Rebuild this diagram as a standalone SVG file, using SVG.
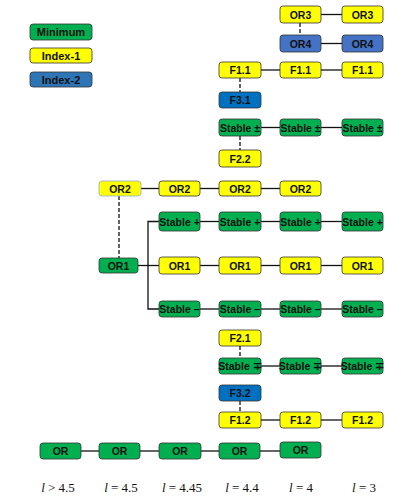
<svg xmlns="http://www.w3.org/2000/svg" width="415" height="498" viewBox="0 0 415 498">
<style>
rect{stroke:#333;stroke-width:0.8}
.g{fill:#00B050}
.y{fill:#FFFF00}
.b{fill:#4472C4}
.b2{fill:#0070C0}
.b3{fill:#2E75B6}
text{font-family:"Liberation Sans",Arial,sans-serif;font-weight:bold;font-size:10.5px;fill:#111;text-anchor:middle}
.lg{font-size:11px}
.m{font-family:"Liberation Serif","Times New Roman",serif;font-weight:normal;font-size:13px}
#connectors line,#connectors path{stroke:#111;stroke-width:1.3;fill:none}
#connectors .d{stroke-dasharray:4,2}
</style>
<g id="connectors">
<line x1="321" y1="14.5" x2="342" y2="14.5"/>
<line x1="321" y1="43.5" x2="342" y2="43.5"/>
<line class="d" x1="300" y1="23" x2="300" y2="35"/>
<line x1="261" y1="70" x2="280" y2="70"/>
<line x1="321" y1="70" x2="342" y2="70"/>
<line class="d" x1="240" y1="78" x2="240" y2="92"/>
<line x1="261" y1="127.5" x2="280" y2="127.5"/>
<line x1="321" y1="127.5" x2="342" y2="127.5"/>
<line class="d" x1="240" y1="136" x2="240" y2="150"/>
<line x1="141" y1="188.5" x2="159" y2="188.5"/>
<line x1="200" y1="188.5" x2="219" y2="188.5"/>
<line x1="261" y1="188.5" x2="280" y2="188.5"/>
<line class="d" x1="119" y1="196" x2="119" y2="258"/>
<path d="M159 221.5H148V309H159"/>
<line x1="138" y1="265.5" x2="159" y2="265.5"/>
<line x1="200" y1="221.5" x2="219" y2="221.5"/>
<line x1="261" y1="221.5" x2="280" y2="221.5"/>
<line x1="321" y1="221.5" x2="342" y2="221.5"/>
<line x1="200" y1="265.5" x2="219" y2="265.5"/>
<line x1="261" y1="265.5" x2="280" y2="265.5"/>
<line x1="321" y1="265.5" x2="342" y2="265.5"/>
<line x1="200" y1="309" x2="219" y2="309"/>
<line x1="261" y1="309" x2="280" y2="309"/>
<line x1="321" y1="309" x2="342" y2="309"/>
<line class="d" x1="240" y1="346" x2="240" y2="358"/>
<line x1="261" y1="366" x2="280" y2="366"/>
<line x1="321" y1="366" x2="342" y2="366"/>
<line class="d" x1="240" y1="401" x2="240" y2="412"/>
<line x1="261" y1="420" x2="280" y2="420"/>
<line x1="321" y1="420" x2="342" y2="420"/>
<line x1="81" y1="451" x2="99" y2="451"/>
<line x1="140" y1="451" x2="159" y2="451"/>
<line x1="201" y1="451" x2="219" y2="451"/>
<line x1="260" y1="451" x2="280" y2="451"/>
</g>
<g id="legend-minimum"><rect class="g" x="30" y="24" width="62" height="16" rx="3"/><text class="lg" x="61" y="36">Minimum</text></g>
<g id="legend-index1"><rect class="y" x="30" y="48" width="62" height="15" rx="3"/><text class="lg" x="61" y="59.5">Index-1</text></g>
<g id="legend-index2"><rect class="b3" x="30" y="72" width="62" height="15" rx="3"/><text class="lg" x="61" y="83.5">Index-2</text></g>

<g id="or3-a"><rect class="y" x="280" y="6" width="41" height="17" rx="3"/><text x="300.5" y="18.5">OR3</text></g>
<g id="or3-b"><rect class="y" x="342" y="6" width="41" height="17" rx="3"/><text x="362.5" y="18.5">OR3</text></g>
<g id="or4-a"><rect class="b" x="280" y="35" width="41" height="17" rx="3"/><text x="300.5" y="47.5">OR4</text></g>
<g id="or4-b"><rect class="b" x="342" y="35" width="41" height="17" rx="3"/><text x="362.5" y="47.5">OR4</text></g>

<g id="f11-a"><rect class="y" x="219" y="62" width="42" height="16" rx="3"/><text x="240" y="74">F1.1</text></g>
<g id="f11-b"><rect class="y" x="280" y="62" width="41" height="16" rx="3"/><text x="300.5" y="74">F1.1</text></g>
<g id="f11-c"><rect class="y" x="342" y="62" width="41" height="16" rx="3"/><text x="362.5" y="74">F1.1</text></g>
<g id="f31"><rect class="b2" x="219" y="92" width="42" height="16" rx="3"/><text x="240" y="104">F3.1</text></g>

<g id="stpm-a"><rect class="g" x="219" y="119" width="42" height="17" rx="3"/><text x="240" y="131.5">Stable ±</text></g>
<g id="stpm-b"><rect class="g" x="280" y="119" width="41" height="17" rx="3"/><text x="300.5" y="131.5">Stable ±</text></g>
<g id="stpm-c"><rect class="g" x="342" y="119" width="41" height="17" rx="3"/><text x="362.5" y="131.5">Stable ±</text></g>
<g id="f22"><rect class="y" x="219" y="150" width="42" height="17" rx="3"/><text x="240" y="162.5">F2.2</text></g>

<g id="or2-a"><rect class="y" x="99" y="181" width="42" height="15" rx="3" style="stroke:#8EA9DB"/><text x="120" y="192.5">OR2</text></g>
<g id="or2-b"><rect class="y" x="159" y="181" width="41" height="15" rx="3"/><text x="179.5" y="192.5">OR2</text></g>
<g id="or2-c"><rect class="y" x="219" y="181" width="42" height="15" rx="3"/><text x="240" y="192.5">OR2</text></g>
<g id="or2-d"><rect class="y" x="280" y="181" width="41" height="15" rx="3"/><text x="300.5" y="192.5">OR2</text></g>

<g id="stp-a"><rect class="g" x="159" y="212" width="41" height="19" rx="3"/><text x="179.5" y="225.5">Stable +</text></g>
<g id="stp-b"><rect class="g" x="219" y="212" width="42" height="19" rx="3"/><text x="240" y="225.5">Stable +</text></g>
<g id="stp-c"><rect class="g" x="280" y="212" width="41" height="19" rx="3"/><text x="300.5" y="225.5">Stable +</text></g>
<g id="stp-d"><rect class="g" x="342" y="212" width="41" height="19" rx="3"/><text x="362.5" y="225.5">Stable +</text></g>

<g id="or1-min"><rect class="g" x="99" y="258" width="39" height="15" rx="3"/><text x="118.5" y="269.5">OR1</text></g>
<g id="or1-a"><rect class="y" x="159" y="257" width="41" height="17" rx="3"/><text x="179.5" y="269.5">OR1</text></g>
<g id="or1-b"><rect class="y" x="219" y="257" width="42" height="17" rx="3"/><text x="240" y="269.5">OR1</text></g>
<g id="or1-c"><rect class="y" x="280" y="257" width="41" height="17" rx="3"/><text x="300.5" y="269.5">OR1</text></g>
<g id="or1-d"><rect class="y" x="342" y="257" width="41" height="17" rx="3"/><text x="362.5" y="269.5">OR1</text></g>

<g id="stm-a"><rect class="g" x="159" y="301" width="41" height="16" rx="3"/><text x="179.5" y="312.5">Stable –</text></g>
<g id="stm-b"><rect class="g" x="219" y="301" width="42" height="16" rx="3"/><text x="240" y="313">Stable –</text></g>
<g id="stm-c"><rect class="g" x="280" y="301" width="41" height="16" rx="3"/><text x="300.5" y="313">Stable –</text></g>
<g id="stm-d"><rect class="g" x="342" y="301" width="41" height="16" rx="3"/><text x="362.5" y="313">Stable –</text></g>

<g id="f21"><rect class="y" x="219" y="330" width="42" height="16" rx="3"/><text x="240" y="342">F2.1</text></g>
<g id="stmp-a"><rect class="g" x="219" y="358" width="42" height="16" rx="3"/><text x="240" y="370">Stable ∓</text></g>
<g id="stmp-b"><rect class="g" x="280" y="358" width="41" height="16" rx="3"/><text x="300.5" y="370">Stable ∓</text></g>
<g id="stmp-c"><rect class="g" x="342" y="358" width="41" height="16" rx="3"/><text x="362.5" y="370">Stable ∓</text></g>
<g id="f32"><rect class="b2" x="219" y="385" width="42" height="16" rx="3"/><text x="240" y="397">F3.2</text></g>
<g id="f12-a"><rect class="y" x="219" y="412" width="42" height="16" rx="3"/><text x="240" y="424">F1.2</text></g>
<g id="f12-b"><rect class="y" x="280" y="412" width="41" height="16" rx="3"/><text x="300.5" y="424">F1.2</text></g>
<g id="f12-c"><rect class="y" x="342" y="412" width="41" height="16" rx="3"/><text x="362.5" y="424">F1.2</text></g>

<g id="or-a"><rect class="g" x="40" y="443" width="41" height="16" rx="3"/><text x="60.5" y="455">OR</text></g>
<g id="or-b"><rect class="g" x="99" y="443" width="41" height="16" rx="3"/><text x="119.5" y="455">OR</text></g>
<g id="or-c"><rect class="g" x="159" y="443" width="42" height="16" rx="3"/><text x="180" y="455">OR</text></g>
<g id="or-d"><rect class="g" x="219" y="443" width="41" height="16" rx="3"/><text x="239.5" y="455">OR</text></g>
<g id="or-e"><rect class="g" x="280" y="442" width="41" height="16" rx="3"/><text x="300.5" y="454">OR</text></g>

<g id="labels">
<text class="m" x="58" y="492"><tspan font-style="italic">l</tspan> &gt; 4.5</text>
<text class="m" x="121" y="492"><tspan font-style="italic">l</tspan> = 4.5</text>
<text class="m" x="182" y="492"><tspan font-style="italic">l</tspan> = 4.45</text>
<text class="m" x="242" y="492"><tspan font-style="italic">l</tspan> = 4.4</text>
<text class="m" x="301" y="492"><tspan font-style="italic">l</tspan> = 4</text>
<text class="m" x="364" y="492"><tspan font-style="italic">l</tspan> = 3</text>
</g>
</svg>
